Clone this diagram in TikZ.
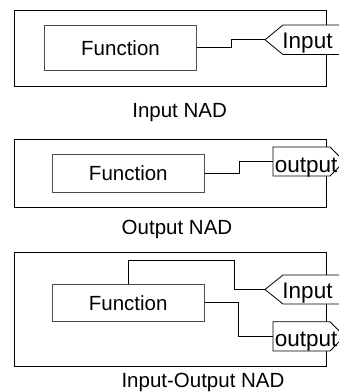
\documentclass[tikz,border=0pt]{standalone}
\usepackage{fontspec}
\setmainfont{Liberation Sans}
\usetikzlibrary{calc}
\tikzset{
  outerbox/.style={draw=black, line width=0.9pt},
  funcbox/.style={draw=black!70, line width=1pt, fill=white, inner sep=0pt, font=\fontsize{20.5}{21}\selectfont},
  flag/.style={draw=black, line width=0.8pt, fill=white},
  flagtext/.style={inner sep=0pt, anchor=base, font=\fontsize{22.5}{23}\selectfont},
  caption/.style={inner sep=0pt, anchor=base, font=\fontsize{20.5}{21}\selectfont},
  wire/.style={draw=black, line width=0.8pt}
}
\begin{document}
\begin{tikzpicture}[x=1pt, y=-1pt]
\useasboundingbox (0,0) rectangle (339,392);
\clip (0,0) rectangle (339,392);
% ---------- Panel 1: Input NAD ----------
\draw[outerbox] (14,10) rectangle (326,86.5);
\node[funcbox, minimum width=152.4pt, minimum height=45.7pt] (f1) at (120.5,47.85) {Function};
\coordinate (in1) at (265,39.75);
\draw[flag] (in1) -- (283,25) -- (345,25) -- (345,54.5) -- (283,54.5) -- cycle;
\node[flagtext] (in1t) at (307.5,48.3) {Input};
\draw[wire] (f1.east) -| ($(f1.east)!0.5!(in1)$) |- (in1);
\node[caption] (c1) at (179.6,117.5) {Input NAD};
% ---------- Panel 2: Output NAD ----------
\draw[outerbox] (14,139.3) rectangle (326,207.7);
\node[funcbox, minimum width=152pt, minimum height=38pt] (f2) at (128.3,173.3) {Function};
\coordinate (out2) at (273,161.5);
\draw[flag] (273,147) -- (330,147) -- (344.5,161.5) -- (330,176) -- (273,176) -- cycle;
\node[flagtext] (out2t) at (306.2,172) {output};
\draw[wire] (f2.east) -| ($(f2.east)!0.5!(out2)$) |- (out2);
\node[caption] (c2) at (177,234) {Output NAD};
% ---------- Panel 3: Input-Output NAD ----------
\draw[outerbox] (14,252.3) rectangle (326,366.7);
\node[funcbox, minimum width=151.7pt, minimum height=37.7pt] (f3) at (128.15,302.85) {Function};
\coordinate (in3) at (265,289.5);
\draw[flag] (in3) -- (283,275) -- (345,275) -- (345,304) -- (283,304) -- cycle;
\node[flagtext] (in3t) at (307.5,298.3) {Input};
\coordinate (top3) at (234.3,260.7);
\draw[wire] (f3.north) |- (top3) |- (in3);
\coordinate (out3) at (273,336.3);
\draw[flag] (273,321.7) -- (330,321.7) -- (344.5,336.3) -- (330,351) -- (273,351) -- cycle;
\node[flagtext] (out3t) at (306.2,346.5) {output};
\draw[wire] (f3.east |- 0,302.5) -| ($(f3.east)!0.5!(out3)$) |- (out3);
\node[caption] (c3) at (203,387.5) {Input-Output NAD};
\end{tikzpicture}
\end{document}
